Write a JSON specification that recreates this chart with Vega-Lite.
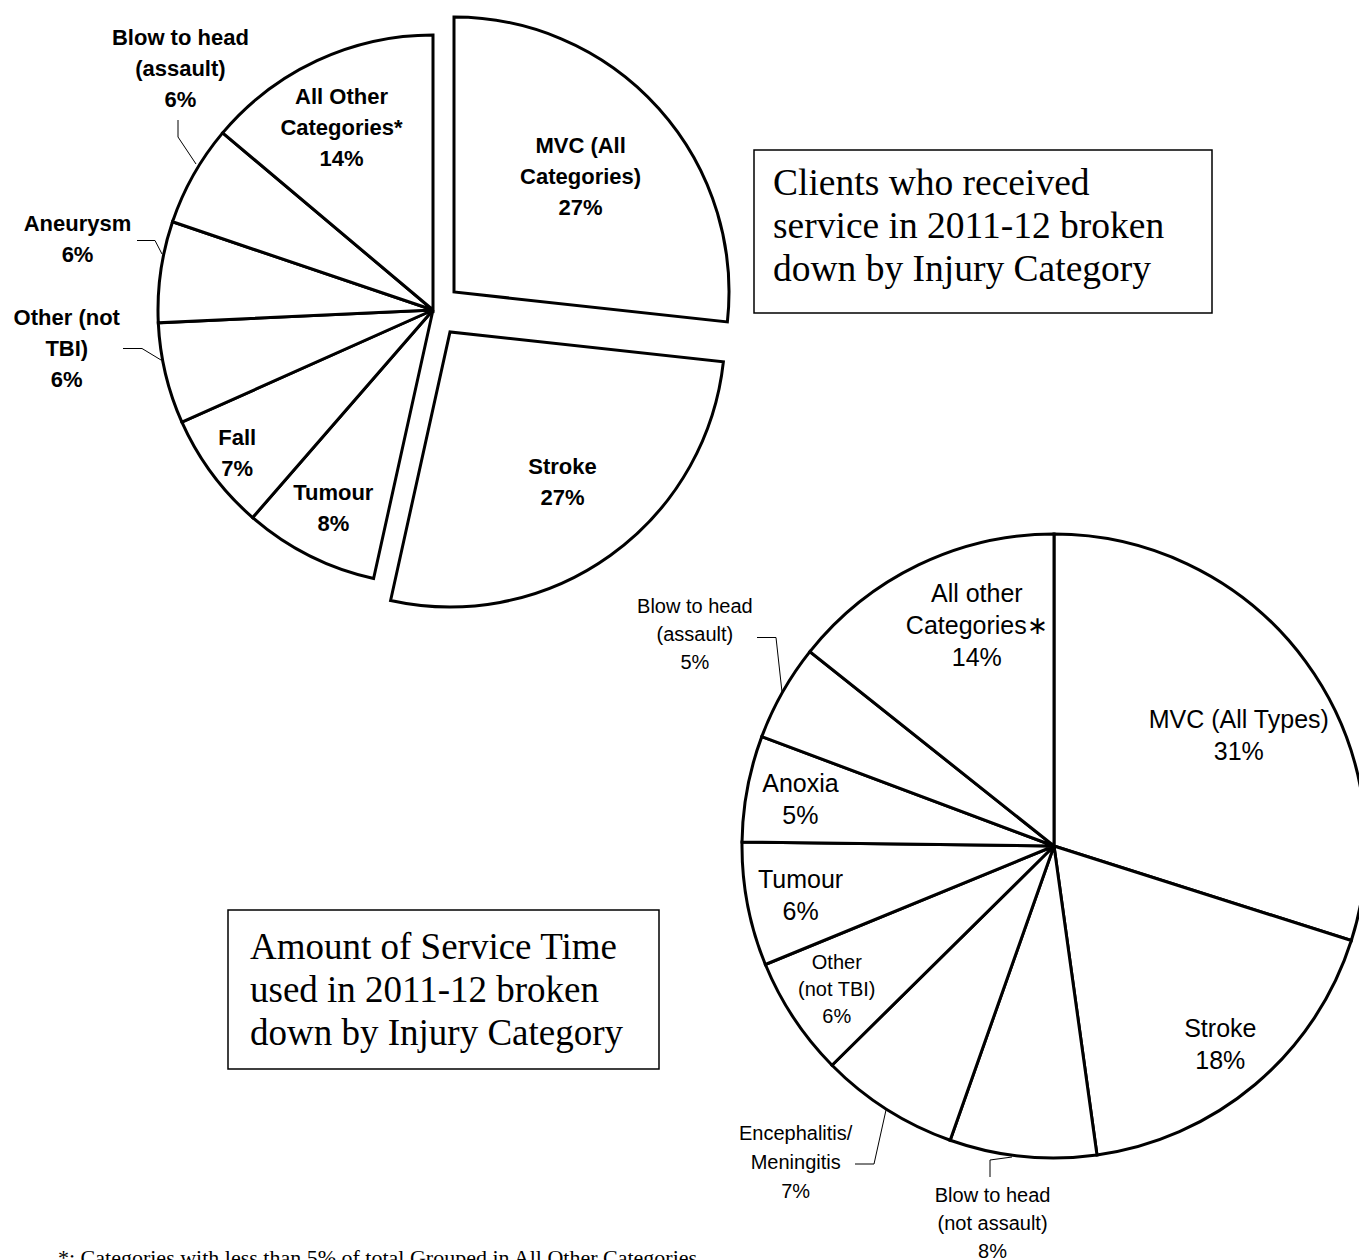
{
  "$schema": "https://vega.github.io/schema/vega-lite/v6.json",
  "width": 1359,
  "height": 1260,
  "autosize": {"type": "none"},
  "padding": 0,
  "background": "white",
  "config": {"view": {"stroke": null}},
  "datasets": {
    "p1": [
      {"i": 1, "cat": "MVC (All Categories)", "v": 27, "lab": "MVC (All\nCategories)\n27%"},
      {"i": 2, "cat": "Stroke", "v": 27, "lab": "Stroke\n27%"},
      {"i": 3, "cat": "Tumour", "v": 8, "lab": "Tumour\n8%"},
      {"i": 4, "cat": "Fall", "v": 7, "lab": "Fall\n7%"},
      {"i": 5, "cat": "Other (not TBI)", "v": 6, "lab": "Other (not\nTBI)\n6%"},
      {"i": 6, "cat": "Aneurysm", "v": 6, "lab": "Aneurysm\n6%"},
      {"i": 7, "cat": "Blow to head (assault)", "v": 6, "lab": "Blow to head\n(assault)\n6%"},
      {"i": 8, "cat": "All Other Categories*", "v": 14, "lab": "All Other\nCategories*\n14%"}
    ],
    "p2": [
      {"i": 1, "cat": "MVC (All Types)", "v": 29.9, "lab": "MVC (All Types)\n31%"},
      {"i": 2, "cat": "Stroke", "v": 17.9, "lab": "Stroke\n18%"},
      {"i": 3, "cat": "Blow to head (not assault)", "v": 7.6, "lab": "Blow to head\n(not assault)\n8%"},
      {"i": 4, "cat": "Encephalitis/Meningitis", "v": 7.2, "lab": "Encephalitis/\nMeningitis\n7%"},
      {"i": 5, "cat": "Other (not TBI)", "v": 6.2, "lab": "Other\n(not TBI)\n6%"},
      {"i": 6, "cat": "Tumour", "v": 6.4, "lab": "Tumour\n6%"},
      {"i": 7, "cat": "Anoxia", "v": 5.5, "lab": "Anoxia\n5%"},
      {"i": 8, "cat": "Blow to head (assault)", "v": 5.0, "lab": "Blow to head\n(assault)\n5%"},
      {"i": 9, "cat": "All other Categories*", "v": 14.3, "lab": "All other\nCategories∗\n14%"}
    ],
    "one": [{"k": 1}]
  },
  "layer": [
    {
      "data": {"name": "p1"},
      "mark": {"type": "arc", "outerRadius": 275, "fill": "white", "stroke": "black", "strokeWidth": 3},
      "encoding": {
        "x": {"datum": 433, "type": "quantitative", "scale": {"domain": [0, 1359], "nice": false, "zero": false}, "axis": null},
        "y": {"datum": 310, "type": "quantitative", "scale": {"domain": [0, 1260], "reverse": true, "nice": false, "zero": false}, "axis": null},
        "theta": {"field": "v", "type": "quantitative", "stack": "normalize"},
        "order": {"field": "i", "type": "quantitative"},
        "opacity": {"condition": {"test": "datum.i <= 2", "value": 0}, "value": 1}
      }
    },
    {
      "data": {"name": "p1"},
      "mark": {"type": "arc", "outerRadius": 275, "fill": "white", "stroke": "black", "strokeWidth": 3, "xOffset": 21, "yOffset": -18},
      "encoding": {
        "x": {"datum": 433, "type": "quantitative", "scale": {"domain": [0, 1359], "nice": false, "zero": false}, "axis": null},
        "y": {"datum": 310, "type": "quantitative", "scale": {"domain": [0, 1260], "reverse": true, "nice": false, "zero": false}, "axis": null},
        "theta": {"field": "v", "type": "quantitative", "stack": "normalize"},
        "order": {"field": "i", "type": "quantitative"},
        "opacity": {"condition": {"test": "datum.i == 1", "value": 1}, "value": 0}
      }
    },
    {
      "data": {"name": "p1"},
      "mark": {"type": "arc", "outerRadius": 275, "fill": "white", "stroke": "black", "strokeWidth": 3, "xOffset": 17, "yOffset": 22},
      "encoding": {
        "x": {"datum": 433, "type": "quantitative", "scale": {"domain": [0, 1359], "nice": false, "zero": false}, "axis": null},
        "y": {"datum": 310, "type": "quantitative", "scale": {"domain": [0, 1260], "reverse": true, "nice": false, "zero": false}, "axis": null},
        "theta": {"field": "v", "type": "quantitative", "stack": "normalize"},
        "order": {"field": "i", "type": "quantitative"},
        "opacity": {"condition": {"test": "datum.i == 2", "value": 1}, "value": 0}
      }
    },
    {
      "data": {"name": "p1"},
      "mark": {"type": "text", "radius": 205, "dx": -5, "dy": -27, "font": "Liberation Sans", "fontWeight": "bold", "fontSize": 22, "lineHeight": 31, "lineBreak": "\n", "align": "center", "baseline": "middle", "fill": "black"},
      "encoding": {
        "x": {"datum": 433, "type": "quantitative", "scale": {"domain": [0, 1359], "nice": false, "zero": false}, "axis": null},
        "y": {"datum": 310, "type": "quantitative", "scale": {"domain": [0, 1260], "reverse": true, "nice": false, "zero": false}, "axis": null},
        "theta": {"field": "v", "type": "quantitative", "stack": "normalize"},
        "order": {"field": "i", "type": "quantitative"},
        "text": {"condition": {"test": "datum.i == 1 || datum.i == 8", "field": "lab", "type": "nominal"}, "value": ""}
      }
    },
    {
      "data": {"name": "p1"},
      "mark": {"type": "text", "radius": 205, "dx": 10, "dy": -10, "font": "Liberation Sans", "fontWeight": "bold", "fontSize": 22, "lineHeight": 31, "lineBreak": "\n", "align": "center", "baseline": "middle", "fill": "black"},
      "encoding": {
        "x": {"datum": 433, "type": "quantitative", "scale": {"domain": [0, 1359], "nice": false, "zero": false}, "axis": null},
        "y": {"datum": 310, "type": "quantitative", "scale": {"domain": [0, 1260], "reverse": true, "nice": false, "zero": false}, "axis": null},
        "theta": {"field": "v", "type": "quantitative", "stack": "normalize"},
        "order": {"field": "i", "type": "quantitative"},
        "text": {"condition": {"test": "datum.i == 2", "field": "lab", "type": "nominal"}, "value": ""}
      }
    },
    {
      "data": {"name": "p1"},
      "mark": {"type": "text", "radius": 235, "dx": 6, "dy": -27, "font": "Liberation Sans", "fontWeight": "bold", "fontSize": 22, "lineHeight": 31, "lineBreak": "\n", "align": "center", "baseline": "middle", "fill": "black"},
      "encoding": {
        "x": {"datum": 433, "type": "quantitative", "scale": {"domain": [0, 1359], "nice": false, "zero": false}, "axis": null},
        "y": {"datum": 310, "type": "quantitative", "scale": {"domain": [0, 1260], "reverse": true, "nice": false, "zero": false}, "axis": null},
        "theta": {"field": "v", "type": "quantitative", "stack": "normalize"},
        "order": {"field": "i", "type": "quantitative"},
        "text": {"condition": {"test": "datum.i == 3", "field": "lab", "type": "nominal"}, "value": ""}
      }
    },
    {
      "data": {"name": "p1"},
      "mark": {"type": "text", "radius": 235, "dx": -7, "dy": -12, "font": "Liberation Sans", "fontWeight": "bold", "fontSize": 22, "lineHeight": 31, "lineBreak": "\n", "align": "center", "baseline": "middle", "fill": "black"},
      "encoding": {
        "x": {"datum": 433, "type": "quantitative", "scale": {"domain": [0, 1359], "nice": false, "zero": false}, "axis": null},
        "y": {"datum": 310, "type": "quantitative", "scale": {"domain": [0, 1260], "reverse": true, "nice": false, "zero": false}, "axis": null},
        "theta": {"field": "v", "type": "quantitative", "stack": "normalize"},
        "order": {"field": "i", "type": "quantitative"},
        "text": {"condition": {"test": "datum.i == 4", "field": "lab", "type": "nominal"}, "value": ""}
      }
    },
    {
      "data": {"name": "p1"},
      "mark": {"type": "text", "radius": 360, "dx": -16, "dy": -75, "font": "Liberation Sans", "fontWeight": "bold", "fontSize": 22, "lineHeight": 31, "lineBreak": "\n", "align": "center", "baseline": "middle", "fill": "black"},
      "encoding": {
        "x": {"datum": 433, "type": "quantitative", "scale": {"domain": [0, 1359], "nice": false, "zero": false}, "axis": null},
        "y": {"datum": 310, "type": "quantitative", "scale": {"domain": [0, 1260], "reverse": true, "nice": false, "zero": false}, "axis": null},
        "theta": {"field": "v", "type": "quantitative", "stack": "normalize"},
        "order": {"field": "i", "type": "quantitative"},
        "text": {"condition": {"test": "datum.i == 5", "field": "lab", "type": "nominal"}, "value": ""}
      }
    },
    {
      "data": {"name": "p1"},
      "mark": {"type": "text", "radius": 360, "dx": 1, "dy": -36, "font": "Liberation Sans", "fontWeight": "bold", "fontSize": 22, "lineHeight": 31, "lineBreak": "\n", "align": "center", "baseline": "middle", "fill": "black"},
      "encoding": {
        "x": {"datum": 433, "type": "quantitative", "scale": {"domain": [0, 1359], "nice": false, "zero": false}, "axis": null},
        "y": {"datum": 310, "type": "quantitative", "scale": {"domain": [0, 1260], "reverse": true, "nice": false, "zero": false}, "axis": null},
        "theta": {"field": "v", "type": "quantitative", "stack": "normalize"},
        "order": {"field": "i", "type": "quantitative"},
        "text": {"condition": {"test": "datum.i == 6", "field": "lab", "type": "nominal"}, "value": ""}
      }
    },
    {
      "data": {"name": "p1"},
      "mark": {"type": "text", "radius": 360, "dx": 61, "dy": -95, "font": "Liberation Sans", "fontWeight": "bold", "fontSize": 22, "lineHeight": 31, "lineBreak": "\n", "align": "center", "baseline": "middle", "fill": "black"},
      "encoding": {
        "x": {"datum": 433, "type": "quantitative", "scale": {"domain": [0, 1359], "nice": false, "zero": false}, "axis": null},
        "y": {"datum": 310, "type": "quantitative", "scale": {"domain": [0, 1260], "reverse": true, "nice": false, "zero": false}, "axis": null},
        "theta": {"field": "v", "type": "quantitative", "stack": "normalize"},
        "order": {"field": "i", "type": "quantitative"},
        "text": {"condition": {"test": "datum.i == 7", "field": "lab", "type": "nominal"}, "value": ""}
      }
    },
    {
      "data": {"name": "p2"},
      "mark": {"type": "arc", "outerRadius": 312, "fill": "white", "stroke": "black", "strokeWidth": 3},
      "encoding": {
        "x": {"datum": 1054, "type": "quantitative", "scale": {"domain": [0, 1359], "nice": false, "zero": false}, "axis": null},
        "y": {"datum": 846, "type": "quantitative", "scale": {"domain": [0, 1260], "reverse": true, "nice": false, "zero": false}, "axis": null},
        "theta": {"field": "v", "type": "quantitative", "stack": "normalize"},
        "order": {"field": "i", "type": "quantitative"}
      }
    },
    {
      "data": {"name": "p2"},
      "mark": {"type": "text", "radius": 258, "dy": -14, "font": "Liberation Sans", "fontSize": 25, "lineHeight": 32, "lineBreak": "\n", "align": "center", "baseline": "middle", "fill": "black"},
      "encoding": {
        "x": {"datum": 1054, "type": "quantitative", "scale": {"domain": [0, 1359], "nice": false, "zero": false}, "axis": null},
        "y": {"datum": 846, "type": "quantitative", "scale": {"domain": [0, 1260], "reverse": true, "nice": false, "zero": false}, "axis": null},
        "theta": {"field": "v", "type": "quantitative", "stack": "normalize"},
        "order": {"field": "i", "type": "quantitative"},
        "text": {"condition": {"test": "datum.i == 2 || datum.i == 6 || datum.i == 7", "field": "lab", "type": "nominal"}, "value": ""}
      }
    },
    {
      "data": {"name": "p2"},
      "mark": {"type": "text", "radius": 258, "dx": -2, "dy": -25, "font": "Liberation Sans", "fontSize": 20, "lineHeight": 27, "lineBreak": "\n", "align": "center", "baseline": "middle", "fill": "black"},
      "encoding": {
        "x": {"datum": 1054, "type": "quantitative", "scale": {"domain": [0, 1359], "nice": false, "zero": false}, "axis": null},
        "y": {"datum": 846, "type": "quantitative", "scale": {"domain": [0, 1260], "reverse": true, "nice": false, "zero": false}, "axis": null},
        "theta": {"field": "v", "type": "quantitative", "stack": "normalize"},
        "order": {"field": "i", "type": "quantitative"},
        "text": {"condition": {"test": "datum.i == 5", "field": "lab", "type": "nominal"}, "value": ""}
      }
    },
    {
      "data": {"name": "p2"},
      "mark": {"type": "text", "radius": 224, "dx": 4, "dy": 6, "font": "Liberation Sans", "fontSize": 25, "lineHeight": 32, "lineBreak": "\n", "align": "center", "baseline": "middle", "fill": "black"},
      "encoding": {
        "x": {"datum": 1054, "type": "quantitative", "scale": {"domain": [0, 1359], "nice": false, "zero": false}, "axis": null},
        "y": {"datum": 846, "type": "quantitative", "scale": {"domain": [0, 1260], "reverse": true, "nice": false, "zero": false}, "axis": null},
        "theta": {"field": "v", "type": "quantitative", "stack": "normalize"},
        "order": {"field": "i", "type": "quantitative"},
        "text": {"condition": {"test": "datum.i == 1", "field": "lab", "type": "nominal"}, "value": ""}
      }
    },
    {
      "data": {"name": "p2"},
      "mark": {"type": "text", "radius": 233, "dx": 24, "dy": -42, "font": "Liberation Sans", "fontSize": 25, "lineHeight": 32, "lineBreak": "\n", "align": "center", "baseline": "middle", "fill": "black"},
      "encoding": {
        "x": {"datum": 1054, "type": "quantitative", "scale": {"domain": [0, 1359], "nice": false, "zero": false}, "axis": null},
        "y": {"datum": 846, "type": "quantitative", "scale": {"domain": [0, 1260], "reverse": true, "nice": false, "zero": false}, "axis": null},
        "theta": {"field": "v", "type": "quantitative", "stack": "normalize"},
        "order": {"field": "i", "type": "quantitative"},
        "text": {"condition": {"test": "datum.i == 9", "field": "lab", "type": "nominal"}, "value": ""}
      }
    },
    {
      "data": {"name": "p2"},
      "mark": {"type": "text", "radius": 400, "dx": -44, "dy": -50, "font": "Liberation Sans", "fontSize": 20, "lineHeight": 29, "lineBreak": "\n", "align": "center", "baseline": "middle", "fill": "black"},
      "encoding": {
        "x": {"datum": 1054, "type": "quantitative", "scale": {"domain": [0, 1359], "nice": false, "zero": false}, "axis": null},
        "y": {"datum": 846, "type": "quantitative", "scale": {"domain": [0, 1260], "reverse": true, "nice": false, "zero": false}, "axis": null},
        "theta": {"field": "v", "type": "quantitative", "stack": "normalize"},
        "order": {"field": "i", "type": "quantitative"},
        "text": {"condition": {"test": "datum.i == 4", "field": "lab", "type": "nominal"}, "value": ""}
      }
    },
    {
      "data": {"name": "p2"},
      "mark": {"type": "text", "radius": 383, "dx": -23, "dy": -31, "font": "Liberation Sans", "fontSize": 20, "lineHeight": 28, "lineBreak": "\n", "align": "center", "baseline": "middle", "fill": "black"},
      "encoding": {
        "x": {"datum": 1054, "type": "quantitative", "scale": {"domain": [0, 1359], "nice": false, "zero": false}, "axis": null},
        "y": {"datum": 846, "type": "quantitative", "scale": {"domain": [0, 1260], "reverse": true, "nice": false, "zero": false}, "axis": null},
        "theta": {"field": "v", "type": "quantitative", "stack": "normalize"},
        "order": {"field": "i", "type": "quantitative"},
        "text": {"condition": {"test": "datum.i == 3", "field": "lab", "type": "nominal"}, "value": ""}
      }
    },
    {
      "data": {"name": "p2"},
      "mark": {"type": "text", "radius": 415, "dx": 2, "dy": -35, "font": "Liberation Sans", "fontSize": 20, "lineHeight": 28, "lineBreak": "\n", "align": "center", "baseline": "middle", "fill": "black"},
      "encoding": {
        "x": {"datum": 1054, "type": "quantitative", "scale": {"domain": [0, 1359], "nice": false, "zero": false}, "axis": null},
        "y": {"datum": 846, "type": "quantitative", "scale": {"domain": [0, 1260], "reverse": true, "nice": false, "zero": false}, "axis": null},
        "theta": {"field": "v", "type": "quantitative", "stack": "normalize"},
        "order": {"field": "i", "type": "quantitative"},
        "text": {"condition": {"test": "datum.i == 8", "field": "lab", "type": "nominal"}, "value": ""}
      }
    },
    {"data": {"name": "one"}, "mark": {"type": "rule", "stroke": "black", "strokeWidth": 1},
      "encoding": {"x": {"datum": 178, "type": "quantitative", "scale": {"domain": [0, 1359], "nice": false, "zero": false}, "axis": null}, "x2": {"datum": 178},
        "y": {"datum": 120, "type": "quantitative", "scale": {"domain": [0, 1260], "reverse": true, "nice": false, "zero": false}, "axis": null}, "y2": {"datum": 137}}},
    {"data": {"name": "one"}, "mark": {"type": "rule", "stroke": "black", "strokeWidth": 1},
      "encoding": {"x": {"datum": 178, "type": "quantitative", "scale": {"domain": [0, 1359], "nice": false, "zero": false}, "axis": null}, "x2": {"datum": 196},
        "y": {"datum": 137, "type": "quantitative", "scale": {"domain": [0, 1260], "reverse": true, "nice": false, "zero": false}, "axis": null}, "y2": {"datum": 164}}},
    {"data": {"name": "one"}, "mark": {"type": "rule", "stroke": "black", "strokeWidth": 1},
      "encoding": {"x": {"datum": 137, "type": "quantitative", "scale": {"domain": [0, 1359], "nice": false, "zero": false}, "axis": null}, "x2": {"datum": 155},
        "y": {"datum": 240.5, "type": "quantitative", "scale": {"domain": [0, 1260], "reverse": true, "nice": false, "zero": false}, "axis": null}, "y2": {"datum": 240.5}}},
    {"data": {"name": "one"}, "mark": {"type": "rule", "stroke": "black", "strokeWidth": 1},
      "encoding": {"x": {"datum": 155, "type": "quantitative", "scale": {"domain": [0, 1359], "nice": false, "zero": false}, "axis": null}, "x2": {"datum": 162},
        "y": {"datum": 240.5, "type": "quantitative", "scale": {"domain": [0, 1260], "reverse": true, "nice": false, "zero": false}, "axis": null}, "y2": {"datum": 254}}},
    {"data": {"name": "one"}, "mark": {"type": "rule", "stroke": "black", "strokeWidth": 1},
      "encoding": {"x": {"datum": 123, "type": "quantitative", "scale": {"domain": [0, 1359], "nice": false, "zero": false}, "axis": null}, "x2": {"datum": 142},
        "y": {"datum": 348.5, "type": "quantitative", "scale": {"domain": [0, 1260], "reverse": true, "nice": false, "zero": false}, "axis": null}, "y2": {"datum": 348.5}}},
    {"data": {"name": "one"}, "mark": {"type": "rule", "stroke": "black", "strokeWidth": 1},
      "encoding": {"x": {"datum": 142, "type": "quantitative", "scale": {"domain": [0, 1359], "nice": false, "zero": false}, "axis": null}, "x2": {"datum": 161},
        "y": {"datum": 348.5, "type": "quantitative", "scale": {"domain": [0, 1260], "reverse": true, "nice": false, "zero": false}, "axis": null}, "y2": {"datum": 360}}},
    {"data": {"name": "one"}, "mark": {"type": "rule", "stroke": "black", "strokeWidth": 1},
      "encoding": {"x": {"datum": 757, "type": "quantitative", "scale": {"domain": [0, 1359], "nice": false, "zero": false}, "axis": null}, "x2": {"datum": 776},
        "y": {"datum": 637.5, "type": "quantitative", "scale": {"domain": [0, 1260], "reverse": true, "nice": false, "zero": false}, "axis": null}, "y2": {"datum": 637.5}}},
    {"data": {"name": "one"}, "mark": {"type": "rule", "stroke": "black", "strokeWidth": 1},
      "encoding": {"x": {"datum": 776, "type": "quantitative", "scale": {"domain": [0, 1359], "nice": false, "zero": false}, "axis": null}, "x2": {"datum": 782},
        "y": {"datum": 637.5, "type": "quantitative", "scale": {"domain": [0, 1260], "reverse": true, "nice": false, "zero": false}, "axis": null}, "y2": {"datum": 692}}},
    {"data": {"name": "one"}, "mark": {"type": "rule", "stroke": "black", "strokeWidth": 1},
      "encoding": {"x": {"datum": 855, "type": "quantitative", "scale": {"domain": [0, 1359], "nice": false, "zero": false}, "axis": null}, "x2": {"datum": 874},
        "y": {"datum": 1164, "type": "quantitative", "scale": {"domain": [0, 1260], "reverse": true, "nice": false, "zero": false}, "axis": null}, "y2": {"datum": 1164}}},
    {"data": {"name": "one"}, "mark": {"type": "rule", "stroke": "black", "strokeWidth": 1},
      "encoding": {"x": {"datum": 874, "type": "quantitative", "scale": {"domain": [0, 1359], "nice": false, "zero": false}, "axis": null}, "x2": {"datum": 886},
        "y": {"datum": 1164, "type": "quantitative", "scale": {"domain": [0, 1260], "reverse": true, "nice": false, "zero": false}, "axis": null}, "y2": {"datum": 1110}}},
    {"data": {"name": "one"}, "mark": {"type": "rule", "stroke": "black", "strokeWidth": 1},
      "encoding": {"x": {"datum": 990, "type": "quantitative", "scale": {"domain": [0, 1359], "nice": false, "zero": false}, "axis": null}, "x2": {"datum": 990},
        "y": {"datum": 1177, "type": "quantitative", "scale": {"domain": [0, 1260], "reverse": true, "nice": false, "zero": false}, "axis": null}, "y2": {"datum": 1160}}},
    {"data": {"name": "one"}, "mark": {"type": "rule", "stroke": "black", "strokeWidth": 1},
      "encoding": {"x": {"datum": 990, "type": "quantitative", "scale": {"domain": [0, 1359], "nice": false, "zero": false}, "axis": null}, "x2": {"datum": 1012},
        "y": {"datum": 1160, "type": "quantitative", "scale": {"domain": [0, 1260], "reverse": true, "nice": false, "zero": false}, "axis": null}, "y2": {"datum": 1157}}},
    {
      "data": {"name": "one"},
      "mark": {"type": "rect", "fill": "white", "stroke": "black", "strokeWidth": 1.5},
      "encoding": {
        "x": {"datum": 754, "type": "quantitative", "scale": {"domain": [0, 1359], "nice": false, "zero": false}, "axis": null},
        "x2": {"datum": 1212},
        "y": {"datum": 150, "type": "quantitative", "scale": {"domain": [0, 1260], "reverse": true, "nice": false, "zero": false}, "axis": null},
        "y2": {"datum": 313}
      }
    },
    {
      "data": {"values": [{"t": "Clients who received\nservice in 2011-12 broken\ndown by Injury Category"}]},
      "mark": {"type": "text", "dy": -41, "font": "Liberation Serif", "fontSize": 37.5, "lineHeight": 43, "lineBreak": "\n", "align": "left", "baseline": "middle", "fill": "black"},
      "encoding": {
        "x": {"datum": 773, "type": "quantitative", "scale": {"domain": [0, 1359], "nice": false, "zero": false}, "axis": null},
        "y": {"datum": 225, "type": "quantitative", "scale": {"domain": [0, 1260], "reverse": true, "nice": false, "zero": false}, "axis": null},
        "text": {"field": "t", "type": "nominal"}
      }
    },
    {
      "data": {"name": "one"},
      "mark": {"type": "rect", "fill": "white", "stroke": "black", "strokeWidth": 1.5},
      "encoding": {
        "x": {"datum": 228, "type": "quantitative", "scale": {"domain": [0, 1359], "nice": false, "zero": false}, "axis": null},
        "x2": {"datum": 659},
        "y": {"datum": 910, "type": "quantitative", "scale": {"domain": [0, 1260], "reverse": true, "nice": false, "zero": false}, "axis": null},
        "y2": {"datum": 1069}
      }
    },
    {
      "data": {"values": [{"t": "Amount of Service Time\nused in 2011-12 broken\ndown by Injury Category"}]},
      "mark": {"type": "text", "dy": -42, "font": "Liberation Serif", "fontSize": 37, "lineHeight": 43, "lineBreak": "\n", "align": "left", "baseline": "middle", "fill": "black"},
      "encoding": {
        "x": {"datum": 250, "type": "quantitative", "scale": {"domain": [0, 1359], "nice": false, "zero": false}, "axis": null},
        "y": {"datum": 990, "type": "quantitative", "scale": {"domain": [0, 1260], "reverse": true, "nice": false, "zero": false}, "axis": null},
        "text": {"field": "t", "type": "nominal"}
      }
    },
    {
      "data": {"values": [{"t": "*: Categories with less than 5% of total Grouped in All Other Categories"}]},
      "mark": {"type": "text", "font": "Liberation Serif", "fontSize": 22, "align": "left", "baseline": "alphabetic", "fill": "black"},
      "encoding": {
        "x": {"datum": 58, "type": "quantitative", "scale": {"domain": [0, 1359], "nice": false, "zero": false}, "axis": null},
        "y": {"datum": 1265, "type": "quantitative", "scale": {"domain": [0, 1260], "reverse": true, "nice": false, "zero": false}, "axis": null},
        "text": {"field": "t", "type": "nominal"}
      }
    }
  ]
}
